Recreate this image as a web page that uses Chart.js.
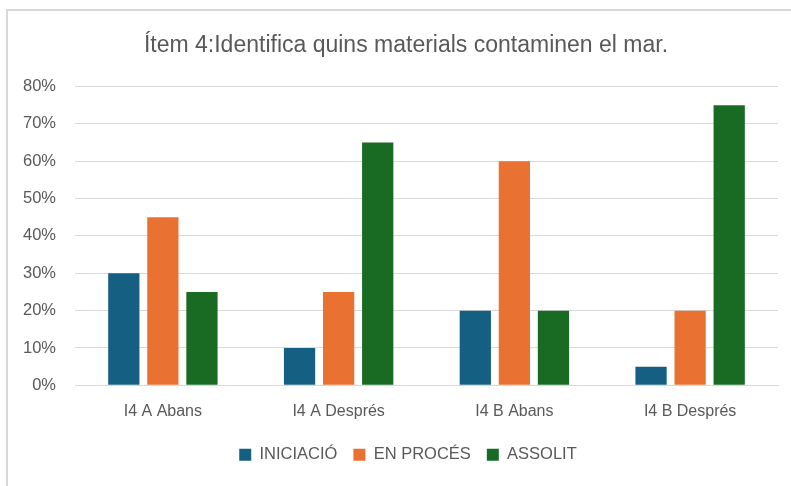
<!DOCTYPE html>
<html>
<head>
<meta charset="utf-8">
<script src="https://cdn.jsdelivr.net/npm/chart.js@4.4.1/dist/chart.umd.min.js"></script>
<style>
  html, body { margin: 0; padding: 0; background: #fff; }
  #frame {
    position: absolute; left: 6px; top: 9px; width: 800px; height: 476px;
    border-left: 2px solid #d9d9d9; border-top: 2px solid #d9d9d9; border-bottom: 1px solid #eeeeee;
  }
  #wrap { position: absolute; left: 0; top: 0; width: 791px; height: 486px; }
</style>
</head>
<body>
<div id="frame"></div>
<div id="wrap"><canvas id="itemChart"></canvas></div>
<script>
// dades del gràfic
const categories = ['I4 A Abans', 'I4 A Després', 'I4 B Abans', 'I4 B Després'];
const iniciacio = [30, 10, 20, 5];
const enProces = [45, 25, 60, 20];
const assolit = [25, 65, 20, 75];
const seriesNames = ['INICIACIÓ', 'EN PROCÉS', 'ASSOLIT'];
const seriesColors = ['#156082', '#E97132', '#196B24'];

const textColor = '#595959';
const labelFont = "'Liberation Sans', Arial, sans-serif";

// mou una mica títol i llegenda cap a la dreta, com a l'original
const shiftBoxes = {
  id: 'shiftBoxes',
  afterLayout(chart) {
    if (chart.titleBlock) { chart.titleBlock.left += 11; chart.titleBlock.right += 11; }
    if (chart.legend) { chart.legend.left += 13; chart.legend.right += 13; }
  },
};

new Chart('itemChart', {
  type: 'bar',
  data: {
    labels: categories,
    datasets: [iniciacio, enProces, assolit].map((vals, i) => ({
      label: seriesNames[i],
      data: vals,
      backgroundColor: seriesColors[i],
      categoryPercentage: 0.667,
      barPercentage: 0.8,
    })),
  },
  plugins: [shiftBoxes],
  options: {
    responsive: true,
    maintainAspectRatio: false,
    animation: false,
    layout: { padding: { left: 12, right: 13, top: 26, bottom: 13 } },
    plugins: {
      title: {
        display: true,
        text: 'Ítem 4:Identifica quins materials contaminen el mar.',
        color: textColor,
        font: { family: labelFont, size: 23, weight: 'normal' },
        padding: { top: 6, bottom: 27 },
      },
      legend: {
        position: 'bottom',
        labels: {
          color: textColor,
          font: { family: labelFont, size: 16.5 },
          boxWidth: 12,
          boxHeight: 12,
          padding: 16,
        },
      },
      tooltip: { enabled: false },
    },
    scales: {
      x: {
        grid: { display: false },
        border: { color: '#d9d9d9', width: 1 },
        ticks: { color: textColor, font: { family: labelFont, size: 16 }, padding: 9 },
      },
      y: {
        min: 0,
        max: 80,
        grid: { color: '#d9d9d9', drawTicks: false },
        border: { display: false },
        ticks: {
          stepSize: 10,
          color: textColor,
          font: { family: labelFont, size: 16.5 },
          padding: 19,
          callback: v => v + '%',
        },
        afterFit: s => { s.width = 63; },
      },
    },
  },
});
</script>
</body>
</html>
